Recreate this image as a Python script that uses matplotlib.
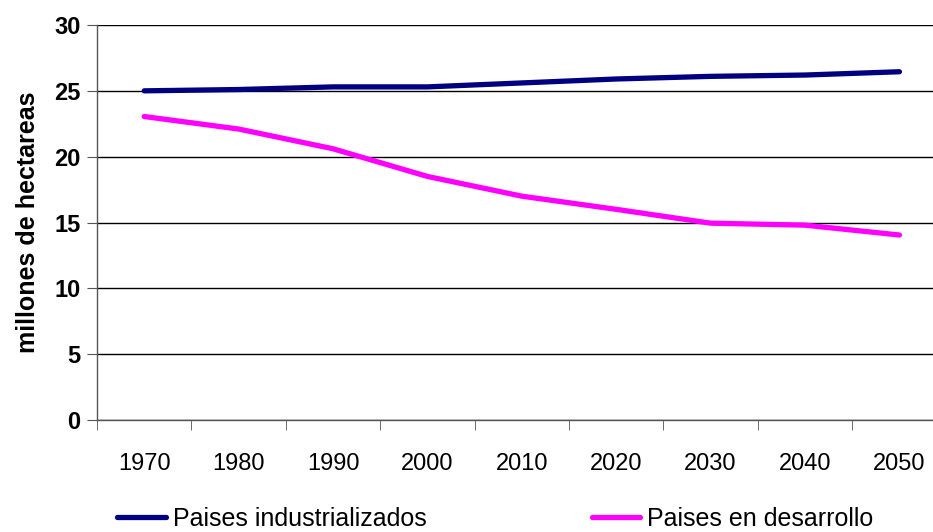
import matplotlib.pyplot as plt
import numpy as np

plt.rcParams["font.family"] = ["Liberation Sans", "DejaVu Sans"]

# datos
years = ["1970", "1980", "1990", "2000", "2010", "2020", "2030", "2040", "2050"]
industrializados = [25.0, 25.1, 25.3, 25.3, 25.6, 25.9, 26.1, 26.2, 26.45]
desarrollo = [23.05, 22.1, 20.6, 18.5, 17.0, 16.0, 14.95, 14.8, 14.05]

fig = plt.figure(figsize=(9.33, 5.32), dpi=100)
# el eje se extiende un poco más allá del borde derecho
ax = fig.add_axes([0.104, 0.2105, 0.9106, 0.7425])

x = np.arange(len(years))
ax.plot(x, industrializados, color="#000080", lw=3.8, solid_capstyle="round",
        label="Paises industrializados", zorder=3, clip_on=False)
ax.plot(x, desarrollo, color="#FF00FF", lw=3.8, solid_capstyle="round",
        label="Paises en desarrollo", zorder=3, clip_on=False)

# ejes
ax.set_xlim(-0.5, len(years) - 0.5)
ax.set_ylim(0, 30)
ax.set_yticks(np.arange(0, 31, 5))
ax.set_yticklabels([str(v) for v in range(0, 31, 5)], fontweight="bold", fontsize=17)
ax.yaxis.grid(True, color="black", lw=1)
ax.set_axisbelow(True)

ax.set_xticks(x)
ax.set_xticklabels(years, fontsize=17)
ax.tick_params(axis="x", which="major", length=0, pad=24)
ax.set_xticks(np.arange(-0.5, len(years), 1), minor=True)
ax.tick_params(axis="x", which="minor", length=7, color="#555555", direction="out")
ax.tick_params(axis="y", length=7, color="#555555", direction="out", pad=5)

for s in ["top", "right"]:
    ax.spines[s].set_visible(False)
for s in ["left", "bottom"]:
    ax.spines[s].set_color("#555555")
    ax.spines[s].set_linewidth(1)

ax.set_ylabel("millones de hectareas", fontsize=18, fontweight="bold", labelpad=10)

fig.legend(loc="lower left", bbox_to_anchor=(117 / 933, 1 / 532), ncol=2, frameon=False,
           fontsize=18, columnspacing=6.6, handlelength=1.95, handletextpad=0.28,
           borderpad=0, borderaxespad=0)

fig.savefig("out.png", dpi=100)
